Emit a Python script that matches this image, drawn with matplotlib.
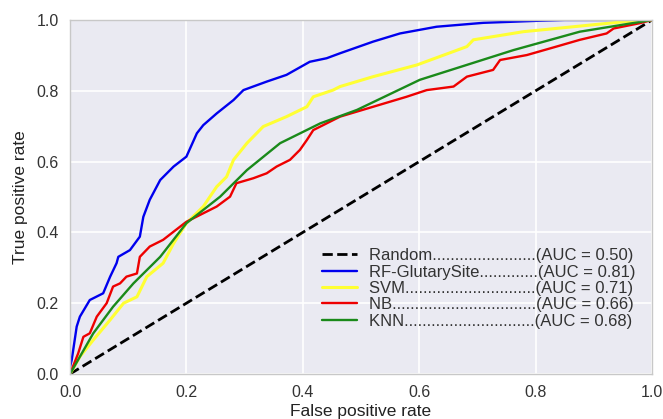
import matplotlib
matplotlib.use("Agg")
import matplotlib.pyplot as plt
import seaborn as sns

sns.set_style("darkgrid")
plt.rcParams['font.family'] = ['Liberation Sans', 'DejaVu Sans']

rf_fpr = [0.0, 0.0, 0.003, 0.0115, 0.017, 0.034, 0.057, 0.069, 0.080, 0.083, 0.103, 0.120, 0.126, 0.137,
          0.155, 0.178, 0.200, 0.218, 0.229, 0.252, 0.281, 0.298, 0.338, 0.372, 0.412, 0.441, 0.464,
          0.521, 0.567, 0.630, 0.710, 0.808, 0.85, 1.0]
rf_tpr = [0.0, 0.02, 0.04, 0.134, 0.162, 0.209, 0.228, 0.275, 0.313, 0.331, 0.350, 0.388, 0.444, 0.492,
          0.548, 0.586, 0.614, 0.680, 0.703, 0.736, 0.774, 0.802, 0.826, 0.845, 0.882, 0.892, 0.906,
          0.939, 0.962, 0.981, 0.992, 0.998, 1.0, 1.0]

svm_fpr = [0.0, 0.017, 0.040, 0.069, 0.092, 0.115, 0.132, 0.160, 0.178, 0.200, 0.229, 0.252, 0.269,
           0.281, 0.304, 0.332, 0.372, 0.407, 0.418, 0.452, 0.464, 0.521, 0.596, 0.682, 0.693, 0.779,
           0.865, 0.951, 1.0]
svm_tpr = [0.0, 0.049, 0.096, 0.153, 0.200, 0.218, 0.275, 0.313, 0.369, 0.426, 0.473, 0.529, 0.557,
           0.605, 0.652, 0.699, 0.727, 0.755, 0.783, 0.802, 0.812, 0.840, 0.873, 0.925, 0.944, 0.967,
           0.981, 0.995, 1.0]

nb_fpr = [0.0, 0.014, 0.023, 0.034, 0.046, 0.063, 0.074, 0.086, 0.097, 0.115, 0.120, 0.137, 0.160,
          0.178, 0.200, 0.229, 0.252, 0.275, 0.286, 0.315, 0.338, 0.355, 0.378, 0.395, 0.407, 0.418,
          0.441, 0.464, 0.521, 0.578, 0.613, 0.659, 0.682, 0.727, 0.739, 0.785, 0.836, 0.876, 0.922,
          0.934, 0.979, 1.0]
nb_tpr = [0.0, 0.058, 0.105, 0.115, 0.162, 0.200, 0.247, 0.256, 0.275, 0.284, 0.331, 0.360, 0.379,
          0.402, 0.430, 0.454, 0.473, 0.501, 0.539, 0.553, 0.567, 0.586, 0.605, 0.633, 0.661, 0.689,
          0.708, 0.727, 0.755, 0.783, 0.802, 0.812, 0.840, 0.859, 0.887, 0.901, 0.925, 0.944, 0.962,
          0.976, 0.991, 1.0]

knn_fpr = [0.0, 0.040, 0.074, 0.109, 0.155, 0.200, 0.258, 0.304, 0.361, 0.430, 0.493, 0.601, 0.762,
           0.876, 1.0]
knn_tpr = [0.0, 0.115, 0.190, 0.256, 0.331, 0.426, 0.501, 0.576, 0.652, 0.708, 0.746, 0.831, 0.915,
           0.967, 1.0]

rand_x = [0.0, 1.0]
rand_y = [0.0, 1.0]

names = ["Random", "RF-GlutarySite", "SVM", "NB", "KNN"]
dots = [23, 13, 29, 32, 29]
aucs = [0.50, 0.81, 0.71, 0.66, 0.68]
labels = [f"{n}{'.' * d}(AUC = {a:.2f})" for n, d, a in zip(names, dots, aucs)]

fig = plt.figure(figsize=(6.63, 4.19), dpi=100)
ax = fig.add_axes([70/663, 1-374/419, 582/663, 354/419])
ax.set_facecolor('#EAEAF2')

ax.plot(rand_x, rand_y, '--', color='black', lw=2, label=labels[0])
ax.plot(rf_fpr, rf_tpr, color='#0000ee', lw=1.7, label=labels[1])
ax.plot(svm_fpr, svm_tpr, color='#ffff33', lw=2.2, label=labels[2])
ax.plot(nb_fpr, nb_tpr, color='#ee0000', lw=1.7, label=labels[3])
ax.plot(knn_fpr, knn_tpr, color='#1a8a1a', lw=1.7, label=labels[4])

ax.set_xlim(0, 1)
ax.set_ylim(0, 1)
ax.set_xticks([0.0, 0.2, 0.4, 0.6, 0.8, 1.0])
ax.set_yticks([0.0, 0.2, 0.4, 0.6, 0.8, 1.0])
ax.grid(True, color='white', lw=1.2)
ax.tick_params(axis='both', labelsize=11.5, colors='#333333', length=0, pad=8)
for s in ax.spines.values():
    s.set_visible(True)
    s.set_color('#c8c8c8')
    s.set_linewidth(1)

ax.set_xlabel("False positive rate", fontsize=12.5, color='#222222', labelpad=3)
ax.set_ylabel("True positive rate", fontsize=12.5, color='#222222', labelpad=6)

leg = ax.legend(loc='lower right', bbox_to_anchor=(1.0, 0.081), fontsize=12, frameon=False,
                labelspacing=0.08, handlelength=2.1, handletextpad=0.7, borderaxespad=0.6)
for t in leg.get_texts():
    t.set_color('#333333')

fig.savefig("out.png", dpi=100)
